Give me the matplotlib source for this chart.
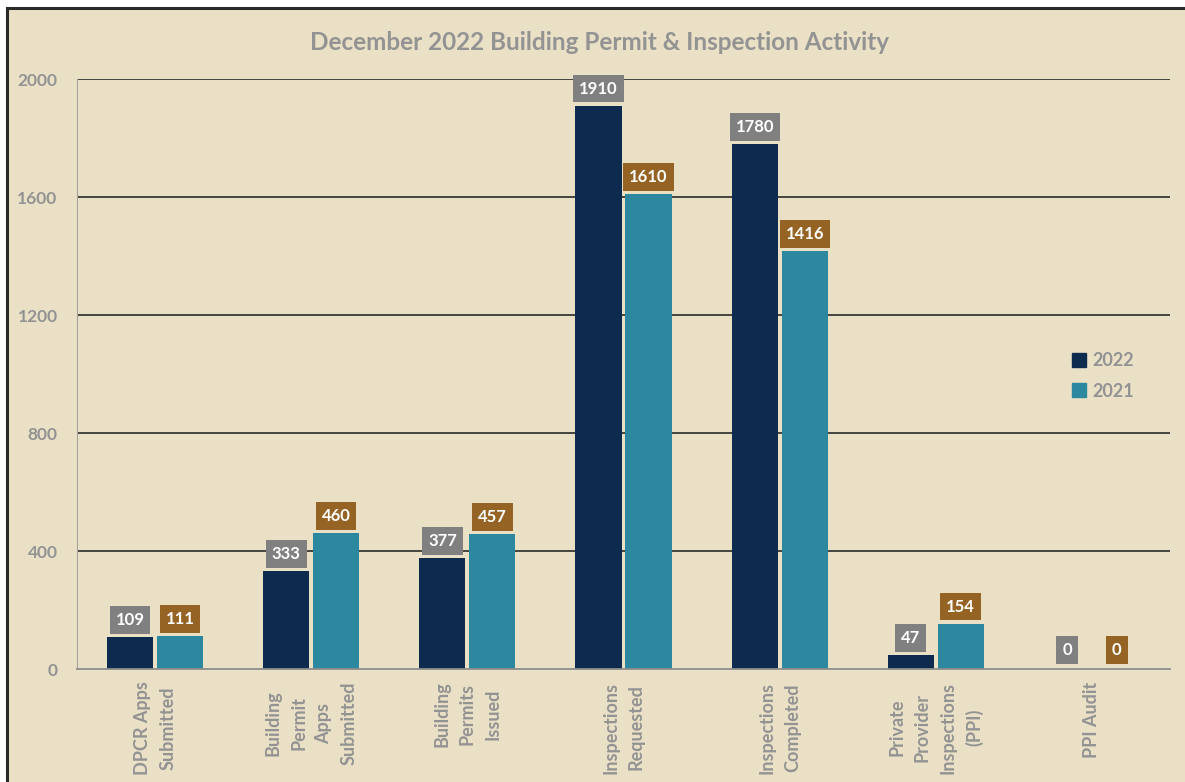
import matplotlib
matplotlib.use("Agg")
import matplotlib.pyplot as plt
import numpy as np
from matplotlib.patches import Rectangle
from matplotlib.lines import Line2D

categories = ["DPCR Apps\nSubmitted", "Building\nPermit\nApps\nSubmitted", "Building\nPermits\nIssued",
              "Inspections\nRequested", "Inspections\nCompleted",
              "Private\nProvider\nInspections\n(PPI)", "PPI Audit"]
values_2022 = [109, 333, 377, 1910, 1780, 47, 0]
values_2021 = [111, 460, 457, 1610, 1416, 154, 0]
yticks = [0, 400, 800, 1200, 1600, 2000]
title = "December 2022 Building Permit & Inspection Activity"

BG = "#EAE0C6"
C22 = "#0D2B4E"
C21 = "#2B889E"
BOX22 = "#808080"
BOX21 = "#956323"
GREY = "#939393"

plt.rcParams['font.family'] = ['Lato', 'DejaVu Sans']

fig = plt.figure(figsize=(11.85, 7.82), dpi=100, facecolor="white")
W, H = 1185, 782
fig.patches.append(Rectangle((7 / W, -0.05), 1.1, 1 - 8 / H + 0.05, transform=fig.transFigure,
                             facecolor=BG, edgecolor="#2a2a2a", linewidth=2.2, zorder=-10))

ax = fig.add_axes([77 / W, 1 - 669 / H, (1170 - 77) / W, (669 - 79) / H])
ax.patch.set_alpha(0)

x = np.arange(len(categories))
off = 0.16
w = 0.295
b1 = ax.bar(x - off, values_2022, w, color=C22, zorder=3, label="2022")
b2 = ax.bar(x + off, values_2021, w, color=C21, zorder=3, label="2021")

ax.set_xlim(-0.5, len(categories) - 0.5)
ax.set_ylim(0, 2000)
ax.set_yticks(yticks)
ax.set_yticklabels([str(v) for v in yticks], fontsize=12.5, fontweight="bold", color=GREY)
ax.tick_params(axis="y", length=0, pad=14)
ax.set_xticks(x)
ax.set_xticklabels(categories, rotation=90, fontsize=13, fontweight="bold", color=GREY,
                   ha="center", va="top", multialignment="center", linespacing=1.6)
ax.tick_params(axis="x", length=0, pad=9)

for yv in yticks[1:]:
    ax.axhline(yv, color="#1a1a1a", linewidth=1.1, zorder=1)

for s in ["top", "right"]:
    ax.spines[s].set_visible(False)
ax.spines["left"].set_color("#A8A39A")
ax.spines["bottom"].set_color("#8E8E8E")
ax.spines["bottom"].set_linewidth(1.3)
ax.spines["bottom"].set_zorder(4)

for bars, vals, bc in [(b1, values_2022, BOX22), (b2, values_2021, BOX21)]:
    for r, v in zip(bars, vals):
        ax.annotate(str(v), (r.get_x() + r.get_width() / 2, v), xytext=(0, 6.5 if v > 0 else 8),
                    textcoords="offset points", ha="center", va="bottom",
                    fontsize=12, fontweight="bold", color="white", zorder=5,
                    annotation_clip=False,
                    bbox=dict(boxstyle="square,pad=0.35", facecolor=bc, edgecolor="none"))

fig.text(599 / W, 1 - 42 / H, title, fontsize=17.5, fontweight="bold", color=GREY,
         ha="center", va="center")

handles = [Line2D([], [], marker="s", linestyle="none", markersize=10, color=C22),
           Line2D([], [], marker="s", linestyle="none", markersize=10, color=C21)]
leg = fig.legend(handles, ["2022", "2021"], loc="center left",
                 bbox_to_anchor=(1054 / W, 1 - 376 / H), frameon=False,
                 handletextpad=0.2, labelspacing=0.75, handlelength=1.0,
                 prop=dict(size=13, weight="bold"))
for t in leg.get_texts():
    t.set_color(GREY)

fig.savefig("out.png", dpi=100, facecolor="white")
